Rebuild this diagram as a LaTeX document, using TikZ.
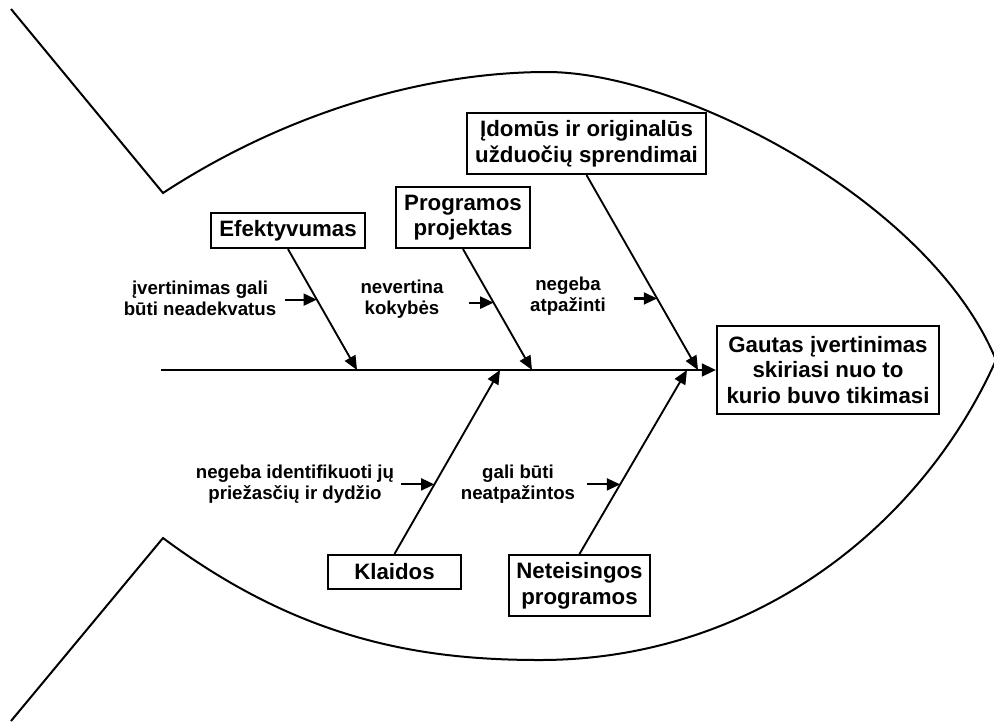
\documentclass[tikz,border=0pt]{standalone}
\usepackage{fontspec}
\setmainfont{Liberation Sans}
\usetikzlibrary{arrows.meta,calc}
\begin{document}
\begin{tikzpicture}[x=0.75pt,y=-0.75pt,
  box/.style={draw,line width=1.6pt,align=center,font=\fontsize{16.7}{19.2}\selectfont\bfseries,inner sep=0pt},
  lab/.style={align=center,font=\fontsize{14}{15.75}\selectfont\bfseries,inner sep=0pt},
  bone/.style={line width=1.4pt,-{Triangle[length=10.5pt,width=9pt]}},
  spine/.style={line width=1.8pt,-{Triangle[length=10.5pt,width=9.5pt]}},
  tick/.style={line width=1.6pt,-{Triangle[length=10pt,width=9pt]}},
  fish/.style={line width=1.5pt,line join=miter}]
\useasboundingbox (0,0) rectangle (994,722);

% fish outline
\coordinate (jt) at (11,9);
\coordinate (ct) at (163,193);
\coordinate (pk) at (547,72);
\coordinate (nose) at (996,360);
\coordinate (cb) at (163,538);
\coordinate (jb) at (11,721);
\coordinate (bt) at (540,660);
\draw[fish] (jt) -- (ct) .. controls (290,110) and (430,72) .. (pk) .. controls (680,72) and (930,200) .. (nose);
\draw[fish] (jb) -- (cb) .. controls (300,640) and (420,660) .. (bt) .. controls (750,660) and (920,530) .. (nose);

% boxes
\node[box,minimum width=115.5pt,minimum height=26.25pt] (eff) at (288,230.5) {Efektyvumas};
\node[box,minimum width=100.5pt,minimum height=45.75pt] (prog) at (463,217.5) {Programos\\projektas};
\node[box,minimum width=179.25pt,minimum height=45.75pt] (idom) at (586.5,143.5) {Įdomūs ir originalūs\\užduočių sprendimai};
\node[box,minimum width=166.5pt,minimum height=66pt] (head) at (828,370) {Gautas įvertinimas\\skiriasi nuo to\\kurio buvo tikimasi};
\node[box,minimum width=99.75pt,minimum height=25.5pt] (klaid) at (394.5,572) {Klaidos};
\node[box,minimum width=105.75pt,minimum height=45.75pt] (net) at (579.5,585.5) {Neteisingos\\programos};

% spine
\coordinate (tail) at (161,370);
\draw[spine] (tail) -- (head.west);

% bone tips on spine
\coordinate (s1) at (357,370);
\coordinate (s2) at (532,370);
\coordinate (s3) at (698,370);
\coordinate (s4) at (500,370);
\coordinate (s5) at (687,370);

\draw[bone] (eff.south) -- (s1);
\draw[bone] (prog.south) -- (s2);
\draw[bone] (idom.south) -- (s3);
\draw[bone] (klaid.north) -- (s4);
\draw[bone] (net.north) -- (s5);

% sub-cause points
\coordinate (p1) at ($(eff.south)!0.418!(s1)$);
\coordinate (p2) at ($(prog.south)!0.443!(s2)$);
\coordinate (p3) at ($(idom.south)!0.633!(s3)$);
\coordinate (p4) at ($(klaid.north)!0.378!(s4)$);
\coordinate (p5) at ($(net.north)!0.378!(s5)$);

\coordinate (q1) at ($(p1)+(-32,0)$);
\coordinate (q2) at ($(p2)+(-25,0)$);
\coordinate (q3) at ($(p3)+(-23,0)$);
\coordinate (q4) at ($(p4)+(-33,0)$);
\coordinate (q5) at ($(p5)+(-33,0)$);

\draw[tick] (q1) -- (p1);
\draw[tick] (q2) -- (p2);
\draw[tick] (q3) -- (p3);
\draw[tick] (q4) -- (p4);
\draw[tick] (q5) -- (p5);

% labels
\node[lab] (l1) at (200,298) {įvertinimas gali\\būti neadekvatus};
\node[lab] (l2) at (402,299) {nevertina\\kokybės};
\node[lab] (l3) at (568,296) {negeba\\atpažinti};
\node[lab] (l4) at (295,484) {negeba identifikuoti jų\\priežasčių ir dydžio};
\node[lab] (l5) at (518,484) {gali būti\\neatpažintos};
\end{tikzpicture}
\end{document}
